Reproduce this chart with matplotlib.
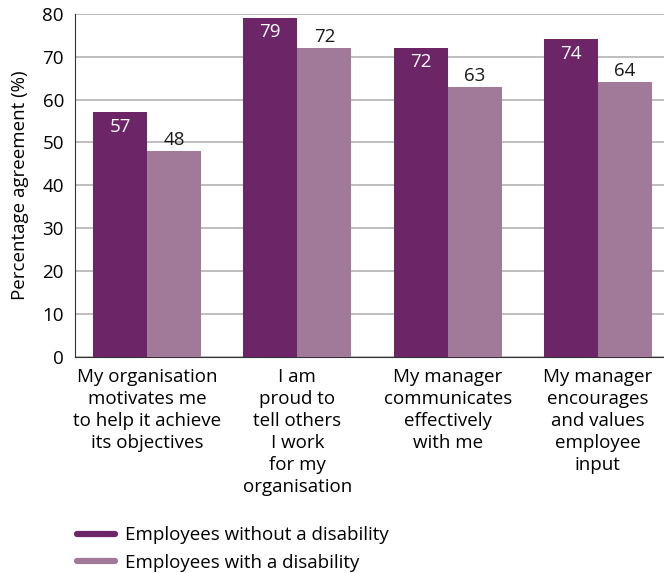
import matplotlib.pyplot as plt
import numpy as np
from matplotlib.lines import Line2D

plt.rcParams['font.family'] = ['Open Sans', 'DejaVu Sans']

categories = [
    "My organisation\nmotivates me\nto help it achieve\nits objectives",
    "I am\nproud to\ntell others\nI work\nfor my\norganisation",
    "My manager\ncommunicates\neffectively\nwith me",
    "My manager\nencourages\nand values\nemployee\ninput",
]
without_disability = [57, 79, 72, 74]
with_disability = [48, 72, 63, 64]
series_names = ["Employees without a disability", "Employees with a disability"]

dark = '#6C2567'
light = '#A17A9A'

fig = plt.figure(figsize=(6.64, 5.73), dpi=100)
ax = fig.add_axes([0.113, 0.377, 0.887, 0.599])

x = np.arange(len(categories))
w = 0.36
b1 = ax.bar(x - w / 2, without_disability, w, color=dark, zorder=3)
b2 = ax.bar(x + w / 2, with_disability, w, color=light, zorder=3)

for bar, v in zip(b1, without_disability):
    ax.text(bar.get_x() + bar.get_width() / 2, v - 1.2, str(v), ha='center', va='top',
            color='white', fontsize=13.5, zorder=4)
for bar, v in zip(b2, with_disability):
    ax.text(bar.get_x() + bar.get_width() / 2, v + 0.5, str(v), ha='center', va='bottom',
            color='#1a1a1a', fontsize=13.5, zorder=4)

ax.set_ylim(0, 80)
ax.set_xlim(-0.48, 3.44)
ax.set_yticks(range(0, 81, 10))
ax.yaxis.grid(True, color='#b3b3b3', lw=1.2, zorder=0)
ax.set_axisbelow(True)
ax.set_xticks(x)
ax.set_xticklabels(categories, fontsize=13.5, linespacing=1.29)
ax.tick_params(axis='y', labelsize=13.5, length=0, pad=8)
ax.tick_params(axis='x', length=0, pad=8)
for s in ['top', 'right']:
    ax.spines[s].set_visible(False)
ax.spines['left'].set_color('#333333')
ax.spines['bottom'].set_color('#333333')
ax.set_ylabel("Percentage agreement (%)", fontsize=13.5, labelpad=10)

handles = [Line2D([0], [0], color=dark, lw=4.5, solid_capstyle='round'),
           Line2D([0], [0], color=light, lw=4.5, solid_capstyle='round')]
fig.legend(handles, series_names, loc='lower left', bbox_to_anchor=(0.091, -0.027),
           frameon=False, fontsize=13.5, handlelength=2.0, labelspacing=0.5, handletextpad=0.55)

fig.savefig('out.png', dpi=100)
